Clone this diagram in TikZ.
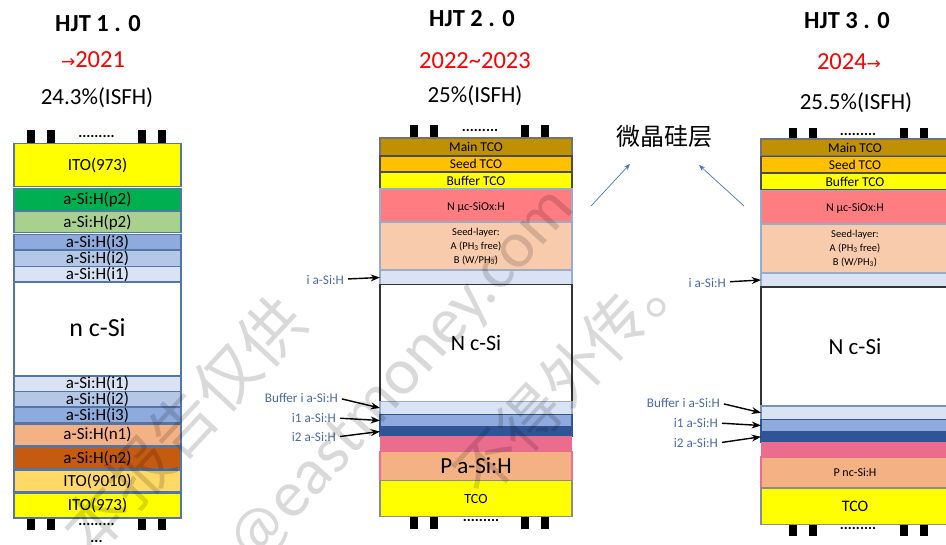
\documentclass[tikz,border=0pt]{standalone}
\usepackage{fontspec}
\setmainfont{Carlito}
\newfontfamily\cjkfont{Noto Sans CJK SC}
\newfontfamily\symfont{DejaVu Sans}
\usetikzlibrary{arrows.meta, positioning}
\definecolor{itoyellow}{HTML}{FFFF00}
\definecolor{pgreen}{HTML}{00B050}
\definecolor{pleaf}{HTML}{A9D18E}
\definecolor{ithree}{HTML}{8FAADC}
\definecolor{itwo}{HTML}{B4C7E7}
\definecolor{ione}{HTML}{DAE3F3}
\definecolor{nfirst}{HTML}{F4B183}
\definecolor{nsecond}{HTML}{C55A11}
\definecolor{itopale}{HTML}{FFD966}
\definecolor{mainbrown}{HTML}{BF9000}
\definecolor{seedgold}{HTML}{FFC000}
\definecolor{nrose}{HTML}{FF7C80}
\definecolor{seedskin}{HTML}{F8CBAD}
\definecolor{deepblue}{HTML}{2F5597}
\definecolor{pinklayer}{HTML}{EC6C8E}
\definecolor{edgeblue}{HTML}{5475A8}
\definecolor{notelabel}{HTML}{4A69A0}
\definecolor{skyarrow}{HTML}{4472C4}

\begin{document}
\begin{tikzpicture}[
  x=1pt, y=-1pt,
  node distance=0pt,
  slab/.style 2 args={rectangle, draw=edgeblue, line width=1.1pt, fill=#1,
              minimum height=#2, inner sep=0pt, outer sep=0pt, align=center,
              font=\fontsize{14}{16}\selectfont},
  slaba/.style 2 args={slab={#1}{#2}, minimum width=167pt,
              font=\fontsize{17}{18}\selectfont, text height=12.5pt, text depth=2pt},
  slabb/.style 2 args={slab={#1}{#2}, minimum width=192pt},
  slabc/.style 2 args={slab={#1}{#2}, minimum width=188pt},
  topfont/.style={font=\fontsize{13.5}{15}\selectfont, text height=12pt, text depth=2.5pt},
  midfont/.style={font=\fontsize{12}{14}\selectfont, text height=12pt, text depth=2.5pt},
  contact/.style={rectangle, fill=black, minimum width=8pt, minimum height=13pt, inner sep=0pt},
  dotrow/.style={font=\fontsize{15}{15}\selectfont\bfseries, inner sep=0pt},
  title/.style={font=\fontsize{24.5}{26}\selectfont\bfseries, inner sep=0pt},
  period/.style={font=\fontsize{24.5}{26}\selectfont, text=red, inner sep=0pt},
  record/.style={font=\fontsize{23}{25}\selectfont, inner sep=0pt},
  note/.style={font=\fontsize{13.2}{15}\selectfont, text=notelabel, inner sep=0pt, anchor=east},
  arr/.style={-Stealth, line width=1.4pt, black, shorten <=4pt},
  skyarr/.style={-Stealth, line width=0.7pt, skyarrow},
  stamp/.style={black, opacity=0.15, inner sep=0pt},
]
\useasboundingbox (0,0) rectangle (946,545);

% HJT 1.0
\node[title] (titlea) at (98,24) {HJT 1 . 0};
\node[period] (perioda) at (93,60) {{\symfont\fontsize{17}{17}\selectfont→}2021};
\node[record] (recorda) at (97,98) {24.3\%(ISFH)};
\foreach \cx in {31,51,142,162} {
  \node[contact] (topa\cx) at (\cx,136.5) {};
  \node[contact] (bota\cx) at (\cx,523.5) {};
}
\node[dotrow] (dotsa) at (96.5,136) {.........};
\node[dotrow] (dotsb) at (96.5,524) {.........};
\node[dotrow] (dotsc) at (96.5,541) {...};

\node[slaba={itoyellow}{43pt}, anchor=north] (itotop) at (97.5,143.5) {ITO(973)};
\node[slaba={pgreen}{22pt}, below=2pt of itotop] (ptwo) {a-Si:H(p2)};
\node[slaba={pleaf}{21pt}, below=1pt of ptwo] (pone) {a-Si:H(p2)};
\node[slaba={ithree}{15.5pt}, below=2pt of pone] (ithreea) {a-Si:H(i3)};
\node[slaba={itwo}{16pt}, below=0.5pt of ithreea] (itwoa) {a-Si:H(i2)};
\node[slaba={ione}{15.5pt}, below=0pt of itwoa] (ionea) {a-Si:H(i1)};
\node[slaba={white}{94pt}, below=0pt of ionea, font=\fontsize{26}{28}\selectfont, text height=17pt, text depth=1pt] (sia) {n c-Si};
\node[slaba={ione}{15.5pt}, below=0pt of sia] (ioneb) {a-Si:H(i1)};
\node[slaba={itwo}{15.5pt}, below=0pt of ioneb] (itwob) {a-Si:H(i2)};
\node[slaba={ithree}{16pt}, below=0pt of itwob] (ithreeb) {a-Si:H(i3)};
\node[slaba={nfirst}{21.5pt}, below=1pt of ithreeb] (nonea) {a-Si:H(n1)};
\node[slaba={nsecond}{22pt}, below=1.5pt of nonea] (ntwoa) {a-Si:H(n2)};
\node[slaba={itopale}{22pt}, below=1pt of ntwoa] (itomid) {ITO(9010)};
\node[slaba={itoyellow}{25pt}, below=1pt of itomid] (itobot) {ITO(973)};

% HJT 2.0
\node[title] (titleb) at (472,19) {HJT 2 . 0};
\node[period] (periodb) at (475,61) {2022\textasciitilde 2023};
\node[record] (recordb) at (475,96) {25\%(ISFH)};
\foreach \cx in {414,434,525,545} {
  \node[contact] (topb\cx) at (\cx,131.5) {};
  \node[contact] (botb\cx) at (\cx,522.5) {};
}
\node[dotrow] (dotsd) at (480,130) {.........};
\node[dotrow] (dotse) at (481,520) {.........};

\node[slabb={mainbrown}{17.5pt}, draw=black!55, anchor=north, topfont] (mainb) at (476,138) {Main TCO};
\node[slabb={seedgold}{15.5pt}, draw=black!70, below=0.5pt of mainb, topfont] (seedb) {Seed TCO};
\node[slabb={itoyellow}{17pt}, draw=black!70, below=0.5pt of seedb, topfont] (bufferb) {Buffer TCO};
\node[slabb={nrose}{33pt}, draw=edgeblue!60, below=0pt of bufferb, midfont] (nmicb) {N μc-SiOx:H};
\node[slabb={seedskin}{47.5pt}, draw=edgeblue!60, below=0.5pt of nmicb, font=\fontsize{10.5}{14}\selectfont] (seedlayerb) {Seed-layer:\\A (PH\textsubscript{3} free)\\B (W/PH\textsubscript{3})};
\node[slabb={ione}{14pt}, draw=edgeblue!60, below=0.5pt of seedlayerb] (iab) {};
\node[slabb={white}{117pt}, draw=black!80, line width=1.5pt, below=0pt of iab, font=\fontsize{22}{24}\selectfont] (sib) {N c-Si};
\node[slabb={ione}{13pt}, draw=edgeblue!60, below=0pt of sib] (bufib) {};
\node[slabb={ithree}{12pt}, draw=deepblue, below=0pt of bufib] (ioneb2) {};
\node[slabb={deepblue}{10pt}, draw=deepblue, below=0pt of ioneb2] (itwob2) {};
\node[slabb={pinklayer}{15pt}, draw=none, below=0pt of itwob2] (pinkb) {};
\node[slabb={nfirst}{29pt}, draw=pinklayer, below=0pt of pinkb, font=\fontsize{23}{25}\selectfont] (pab) {P a-Si:H};
\node[slabb={itoyellow}{36pt}, draw=black!45, below=0pt of pab, topfont, font=\fontsize{14}{16}\selectfont] (tcob) {TCO};

\node[note] (labelib) at (344,280) {i a-Si:H};
\node[note] (labelbufb) at (338,398) {Buffer i a-Si:H};
\node[note] (labeloneb) at (336,418) {i1 a-Si:H};
\node[note] (labeltwob) at (336,437) {i2 a-Si:H};
\draw[arr] (labelib) -- (iab.west);
\draw[arr] (labelbufb.east) -- (bufib.west);
\draw[arr] (labeloneb.east) -- (ioneb2.west);
\draw[arr] (labeltwob.east) -- (itwob2.west);

% microcrystalline callout
\node[font=\fontsize{24}{26}\selectfont\cjkfont, inner sep=0pt] (microlabel) at (664,136) {微晶硅层};
\coordinate (skyleft) at (591,206);
\coordinate (skylefttip) at (630,164);
\coordinate (skyright) at (744,206);
\coordinate (skyrighttip) at (699,165);
\draw[skyarr] (skyleft) -- (skylefttip);
\draw[skyarr] (skyright) -- (skyrighttip);

% HJT 3.0
\node[title] (titlec) at (847,21) {HJT 3 . 0};
\node[period] (periodc) at (849,62) {2024{\symfont\fontsize{17}{17}\selectfont→}};
\node[record] (recordc) at (856,103) {25.5\%(ISFH)};
\foreach \cx in {793,813,904,924} {
  \node[contact] (topc\cx) at (\cx,135) {};
  \node[contact] (botc\cx) at (\cx,529.5) {};
}
\node[dotrow] (dotsf) at (858,134) {.........};
\node[dotrow] (dotsg) at (858,528) {.........};

\node[slabc={mainbrown}{17pt}, draw=black!55, anchor=north, topfont] (mainc) at (855,139) {Main TCO};
\node[slabc={seedgold}{16pt}, draw=black!70, below=0.5pt of mainc, topfont] (seedc) {Seed TCO};
\node[slabc={itoyellow}{17pt}, draw=black!70, below=0.5pt of seedc, topfont] (bufferc) {Buffer TCO};
\node[slabc={nrose}{33pt}, draw=edgeblue!60, below=0.5pt of bufferc, midfont] (nmicc) {N μc-SiOx:H};
\node[slabc={seedskin}{48pt}, draw=edgeblue!60, below=1pt of nmicc, font=\fontsize{10.5}{14}\selectfont] (seedlayerc) {Seed-layer:\\A (PH\textsubscript{3} free)\\B (W/PH\textsubscript{3})};
\node[slabc={ione}{14pt}, draw=edgeblue!60, below=0.5pt of seedlayerc] (iac) {};
\node[slabc={white}{119pt}, draw=black!80, line width=1.5pt, below=0pt of iac, font=\fontsize{23}{25}\selectfont] (sic) {N c-Si};
\node[slabc={ione}{13.5pt}, draw=edgeblue!80, below=0pt of sic] (bufic) {};
\node[slabc={ithree}{12pt}, draw=deepblue, below=0pt of bufic] (ionec) {};
\node[slabc={deepblue}{10.5pt}, draw=deepblue, below=0pt of ionec] (itwoc) {};
\node[slabc={pinklayer}{15pt}, draw=none, below=0pt of itwoc] (pinkc) {};
\node[slabc={nfirst}{31pt}, draw=pinklayer, below=0pt of pinkc, font=\fontsize{12}{14}\selectfont] (pnc) {P nc-Si:H};
\node[slabc={itoyellow}{36.5pt}, draw=black!45, below=0pt of pnc, font=\fontsize{16}{18}\selectfont] (tcoc) {TCO};

\node[note] (labelic) at (726,283) {i a-Si:H};
\node[note] (labelbufc) at (720,403) {Buffer i a-Si:H};
\node[note] (labelonec) at (718,423) {i1 a-Si:H};
\node[note] (labeltwoc) at (718,443) {i2 a-Si:H};
\draw[arr] (labelic) -- (iac.west);
\draw[arr] (labelbufc.east) -- (bufic.west);
\draw[arr] (labelonec.east) -- (ionec.west);
\draw[arr] (labeltwoc.east) -- (itwoc.west);

% stamp across the page
\node[stamp, rotate=47, font=\fontsize{64}{64}\selectfont\cjkfont] (stampa) at (183,425) {本报告仅供};
\node[stamp, rotate=48, font=\fontsize{66}{66}\selectfont] (stampb) at (403,378) {@eastmoney.com};
\node[stamp, rotate=47, font=\fontsize{62}{62}\selectfont\cjkfont] (stampc) at (572,372) {不得外传。};
\end{tikzpicture}
\end{document}
